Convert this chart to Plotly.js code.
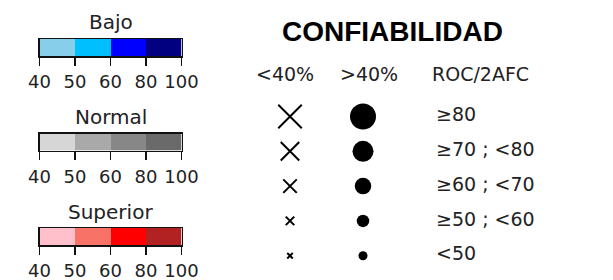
<!DOCTYPE html>
<html>
<head>
<meta charset="utf-8">
<script src="https://cdn.plot.ly/plotly-3.0.1.min.js"></script>
<style>html,body{margin:0;padding:0;background:#fff;}#chart{width:613px;height:280px;}</style>
</head>
<body>
<div id="chart"></div>
<script>
// ---- data ----
var scaleTitles = ["Bajo", "Normal", "Superior"];
var tickLabels = ["40", "50", "60", "80", "100"];
var tickValues = [40, 50, 60, 80, 100];
var bajoColors = ["#87CEEB", "#00BFFF", "#0000FF", "#000080"];
var normalColors = ["#D6D6D6", "#A9A9A9", "#878787", "#6A6A6A"];
var superiorColors = ["#FFC0CB", "#F87268", "#FF0000", "#B22222"];
var reliabilityTitle = "CONFIABILIDAD";
var columnHeaders = ["<40%", ">40%", "ROC/2AFC"];
var rocClasses = ["≥80", "≥70 ; <80", "≥60 ; <70", "≥50 ; <60", "<50"];
var crossSizes = [23.5, 18.5, 13.5, 8.5, 5.5];
var dotSizes = [26, 21, 16.5, 12.5, 9];

// ---- layout helpers (pixel geometry) ----
var W = 613, H = 280;
var FONT = "DejaVu Sans, sans-serif";
var palettes = [bajoColors, normalColors, superiorColors];
var barTop = [39, 133.5, 228];
var barH = 17;
var barX0 = 39.5, barX1 = 181.5;
var titleY = [22, 117, 212];

var traces = [];
var layout = {
  width: W, height: H,
  margin: {l: 0, r: 0, t: 0, b: 0, pad: 0},
  paper_bgcolor: "#fff", plot_bgcolor: "rgba(0,0,0,0)",
  showlegend: false,
  annotations: []
};

palettes.forEach(function (cols, k) {
  var n = k + 1;
  var xa = n === 1 ? "x" : "x" + n;
  var ya = n === 1 ? "y" : "y" + n;
  var cs = [];
  cols.forEach(function (c, i) {
    cs.push([i / cols.length, c]);
    cs.push([(i + 1) / cols.length, c]);
  });
  traces.push({
    type: "heatmap",
    x: tickValues.map(function (v, i) { return i; }),
    y: [0, 1],
    z: [cols.map(function (c, i) { return i; })],
    zmin: -0.5, zmax: cols.length - 0.5,
    colorscale: cs, showscale: false, hoverinfo: "skip",
    xaxis: xa, yaxis: ya
  });
  layout[n === 1 ? "xaxis" : "xaxis" + n] = {
    domain: [barX0 / W, barX1 / W],
    range: [0, tickValues.length - 1],
    anchor: ya,
    tickmode: "array",
    tickvals: tickValues.map(function (v, i) { return i; }),
    ticktext: tickLabels,
    ticks: "outside", ticklen: 8, tickwidth: 1.5, tickcolor: "#111",
    ticklabelstandoff: 1,
    showline: true, linewidth: 1.5, linecolor: "#111", mirror: true,
    showgrid: false, zeroline: false, fixedrange: true,
    tickfont: {family: FONT, size: 18, color: "#222"}
  };
  layout[n === 1 ? "yaxis" : "yaxis" + n] = {
    domain: [1 - (barTop[k] + barH) / H, 1 - barTop[k] / H],
    range: [0, 1], anchor: xa,
    showline: true, linewidth: 1.5, linecolor: "#111", mirror: true,
    showticklabels: false, ticks: "", showgrid: false, zeroline: false, fixedrange: true
  };
  layout.annotations.push({
    xref: "paper", yref: "paper", x: (barX0 + barX1) / 2 / W, y: 1 - titleY[k] / H,
    xanchor: "center", yanchor: "middle", showarrow: false,
    text: scaleTitles[k], font: {family: FONT, size: 20, color: "#222"}
  });
});

// overlay axes in pixel units for the reliability legend
layout.xaxis4 = {domain: [0, 1], range: [0, W], visible: false, fixedrange: true, anchor: "y4"};
layout.yaxis4 = {domain: [0, 1], range: [H, 0], visible: false, fixedrange: true, anchor: "x4"};

var rowY0 = 116.5, rowStep = 34.8;
var rowsY = rocClasses.map(function (c, i) { return rowY0 + i * rowStep; });

traces.push({
  type: "scatter", mode: "markers", xaxis: "x4", yaxis: "y4",
  x: rocClasses.map(function () { return 290; }), y: rowsY,
  marker: {symbol: "x-thin", size: crossSizes, color: "#000", opacity: 1, line: {width: 2, color: "#000"}},
  hoverinfo: "skip"
});
traces.push({
  type: "scatter", mode: "markers", xaxis: "x4", yaxis: "y4",
  x: rocClasses.map(function () { return 363; }), y: rowsY,
  marker: {symbol: "circle", size: dotSizes, color: "#000", opacity: 1, line: {width: 0}},
  hoverinfo: "skip"
});
traces.push({
  type: "scatter", mode: "text", xaxis: "x4", yaxis: "y4",
  x: rocClasses.map(function () { return 436; }), y: rowsY,
  text: rocClasses, textposition: "middle right",
  textfont: {family: FONT, size: 19, color: "#222"},
  hoverinfo: "skip"
});

layout.annotations.push({
  xref: "paper", yref: "paper", x: 392.5 / W, y: 1 - 31 / H,
  xanchor: "center", yanchor: "middle", showarrow: false,
  text: "<b>" + reliabilityTitle + "</b>",
  font: {family: "Liberation Sans, Arial, sans-serif", size: 28, color: "#000"}
});
var headerX = [285, 369, 481];
columnHeaders.forEach(function (h, i) {
  layout.annotations.push({
    xref: "paper", yref: "paper", x: headerX[i] / W, y: 1 - 74 / H,
    xanchor: "center", yanchor: "middle", showarrow: false,
    text: h.replace("<", "&lt;").replace(">", "&gt;"),
    font: {family: FONT, size: 19, color: "#222"}
  });
});

Plotly.newPlot("chart", traces, layout, {displayModeBar: false, staticPlot: true});
</script>
</body>
</html>
